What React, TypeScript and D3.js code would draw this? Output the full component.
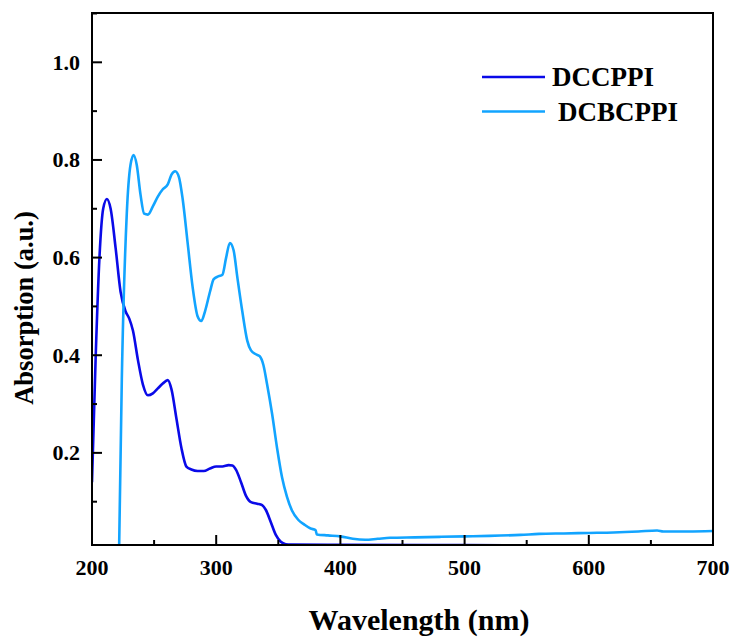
import React from "react";
import * as d3 from "d3";

const seriesNames = ["DCCPPI", "DCBCPPI"];
const seriesColors = ["#0a0ae8", "#12a4ff"];

const dccppiNm = [200, 203, 206, 209, 212, 215, 219, 223, 227, 230, 233, 237, 241, 245, 249, 253, 257, 261, 264, 268, 272, 276, 280, 285, 290, 295, 300, 305, 310, 313, 316, 320, 324, 328, 333, 337, 340, 344, 348, 352, 356, 360, 400, 500, 600, 700];
const dccppiAbs = [0.14, 0.40, 0.60, 0.70, 0.72, 0.70, 0.62, 0.53, 0.49, 0.475, 0.45, 0.39, 0.34, 0.318, 0.322, 0.332, 0.342, 0.349, 0.33, 0.27, 0.21, 0.172, 0.166, 0.163, 0.163, 0.168, 0.172, 0.172, 0.175, 0.174, 0.165, 0.14, 0.112, 0.099, 0.096, 0.093, 0.083, 0.058, 0.032, 0.018, 0.013, 0.012, 0.0115, 0.011, 0.0105, 0.010];

const dcbcppiNm = [221.8, 224, 228, 231, 233.5, 236, 239, 242, 245, 249, 253, 257, 261, 264, 267, 270, 273, 277, 281, 285, 288, 291, 295, 298, 302, 305, 308, 311, 314, 317, 321, 325, 328, 332, 335, 338, 341, 345, 349, 353, 357, 361, 366, 371, 376, 380, 381, 390, 400, 410, 420, 430, 440, 460, 480, 500, 520, 545, 560, 580, 600, 620, 640, 655, 660, 680, 700];
const dcbcppiAbs = [0.0, 0.35, 0.69, 0.79, 0.81, 0.79, 0.73, 0.69, 0.688, 0.705, 0.725, 0.74, 0.75, 0.77, 0.777, 0.765, 0.72, 0.63, 0.54, 0.48, 0.47, 0.49, 0.53, 0.556, 0.562, 0.565, 0.6, 0.63, 0.615, 0.56, 0.49, 0.43, 0.41, 0.402, 0.398, 0.38, 0.34, 0.28, 0.21, 0.15, 0.11, 0.082, 0.063, 0.053, 0.045, 0.042, 0.033, 0.031, 0.029, 0.024, 0.022, 0.024, 0.026, 0.027, 0.028, 0.029, 0.030, 0.032, 0.034, 0.035, 0.036, 0.037, 0.039, 0.041, 0.039, 0.039, 0.040];

const xMajorTicks = [200, 300, 400, 500, 600, 700];
const xMinorTicks = [250, 350, 450, 550, 650];
const yMajorTicks = [0.2, 0.4, 0.6, 0.8, 1.0];
const yMinorTicks = [0.1, 0.3, 0.5, 0.7, 0.9, 1.1];

const xTitle = "Wavelength (nm)";
const yTitle = "Absorption (a.u.)";

const W = 734, H = 639;
const left = 92, right = 713, top = 13, bottom = 545;
const FONT = "'Liberation Serif', 'Times New Roman', serif";

export default function App() {
  const x = d3.scaleLinear().domain([200, 700]).range([left, right]);
  const y = d3.scaleLinear().domain([0.0113, 1.101]).range([bottom, top]);
  const line = d3
    .line<[number, number]>()
    .x((d) => x(d[0]))
    .y((d) => y(d[1]))
    .curve(d3.curveMonotoneX);

  const series = [
    dccppiNm.map((n, i) => [n, dccppiAbs[i]] as [number, number]),
    dcbcppiNm.map((n, i) => [n, dcbcppiAbs[i]] as [number, number]),
  ];

  return (
    <svg width={W} height={H} style={{ position: "absolute", left: 0, top: 0, background: "#fff" }}>
      <defs>
        <clipPath id="plotClip">
          <rect x={left} y={top} width={right - left} height={bottom - top} />
        </clipPath>
      </defs>
      <g clipPath="url(#plotClip)">
        {series.map((s, i) => (
          <path key={i} d={line(s) || ""} fill="none" stroke={seriesColors[i]} strokeWidth={2.6} strokeLinejoin="round" />
        ))}
      </g>
      <rect x={left} y={top} width={right - left} height={bottom - top} fill="none" stroke="#000" strokeWidth={2} />
      {xMajorTicks.map((t) => (
        <g key={"xM" + t}>
          <line x1={x(t)} x2={x(t)} y1={bottom} y2={bottom - 10} stroke="#000" strokeWidth={2} />
          <text x={x(t)} y={575} textAnchor="middle" fontFamily={FONT} fontWeight="bold" fontSize={22}>{t}</text>
        </g>
      ))}
      {xMinorTicks.map((t) => (
        <line key={"xm" + t} x1={x(t)} x2={x(t)} y1={bottom} y2={bottom - 5} stroke="#000" strokeWidth={2} />
      ))}
      {yMajorTicks.map((t) => (
        <g key={"yM" + t}>
          <line x1={left} x2={left + 10} y1={y(t)} y2={y(t)} stroke="#000" strokeWidth={2} />
          <text x={80} y={y(t) + 7.5} textAnchor="end" fontFamily={FONT} fontWeight="bold" fontSize={22}>{t.toFixed(1)}</text>
        </g>
      ))}
      {yMinorTicks.map((t) => (
        <line key={"ym" + t} x1={left} x2={left + 5} y1={y(t)} y2={y(t)} stroke="#000" strokeWidth={2} />
      ))}
      <text x={419} y={630} textAnchor="middle" fontFamily={FONT} fontWeight="bold" fontSize={30}>{xTitle}</text>
      <text transform={`translate(33,308) rotate(-90)`} textAnchor="middle" fontFamily={FONT} fontWeight="bold" fontSize={26.5}>{yTitle}</text>
      {seriesNames.map((name, i) => (
        <g key={name}>
          <line x1={482} x2={545} y1={77 + i * 34.5} y2={77 + i * 34.5} stroke={seriesColors[i]} strokeWidth={2.6} />
          <text x={i === 0 ? 552 : 558} y={86 + i * 35} fontFamily={FONT} fontWeight="bold" fontSize={27}>{name}</text>
        </g>
      ))}
    </svg>
  );
}
